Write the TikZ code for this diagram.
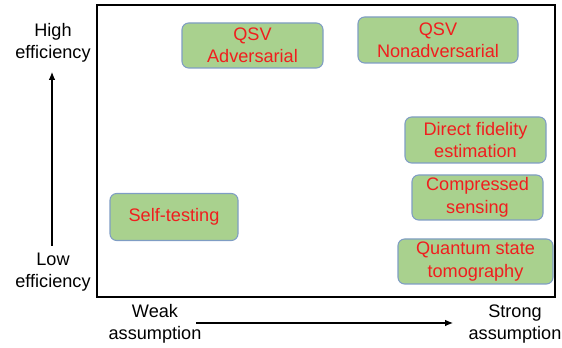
\documentclass[tikz,border=0pt]{standalone}
\usepackage{fontspec}
\setmainfont{Liberation Sans}
\usetikzlibrary{arrows.meta}
\definecolor{boxfill}{HTML}{A9D18E}
\definecolor{boxline}{HTML}{7F9DC4}
\definecolor{boxtext}{HTML}{F01E1E}
\tikzset{
  method/.style={draw=boxline, line width=0.8pt, fill=boxfill, rounded corners=5pt,
    text=boxtext, align=center, inner sep=0pt, font=\fontsize{13.6pt}{16.8pt}\selectfont},
  axislabel/.style={align=center, inner sep=0pt, font=\fontsize{13.6pt}{16.4pt}\selectfont},
  axisarrow/.style={line width=0.8pt, -{Latex[length=6pt,width=5pt]}}
}
\begin{document}
\begin{tikzpicture}[x=0.75pt,y=-0.75pt]
\useasboundingbox (0,0) rectangle (562,348);
% frame
\coordinate (fTL) at (97,5);
\coordinate (fBR) at (555,297);
\draw[line width=1.1pt] (fTL) rectangle (fBR);
% method boxes
\node[method, minimum width=141*0.75pt, minimum height=45*0.75pt] (adv) at (252.5,45.5) {QSV\\Adversarial};
\node[method, minimum width=160*0.75pt, minimum height=46*0.75pt] (nonadv) at (438,40) {QSV\\Nonadversarial};
\node[method, minimum width=141*0.75pt, minimum height=46*0.75pt] (dfe) at (475.5,140) {Direct fidelity\\estimation};
\node[method, minimum width=131*0.75pt, minimum height=45*0.75pt] (cs) at (477.5,197.5) {Compressed\\sensing};
\node[method, minimum width=155*0.75pt, minimum height=45*0.75pt] (qst) at (475.5,261.5) {Quantum state\\tomography};
\node[method, minimum width=128*0.75pt, minimum height=47*0.75pt] (st) at (174,217) {Self-testing};
% axis labels
\node[axislabel] (high) at (53,43) {High\\efficiency};
\node[axislabel] (low) at (53,272) {Low\\efficiency};
\node[axislabel] (weak) at (155,324) {Weak\\assumption};
\node[axislabel] (strong) at (515,324) {Strong\\assumption};
% arrows
\coordinate (vS) at (52,246);
\coordinate (vE) at (52,72);
\coordinate (hS) at (196,323);
\coordinate (hE) at (453,323);
\draw[axisarrow] (vS) -- (vE);
\draw[axisarrow] (hS) -- (hE);
\end{tikzpicture}
\end{document}
